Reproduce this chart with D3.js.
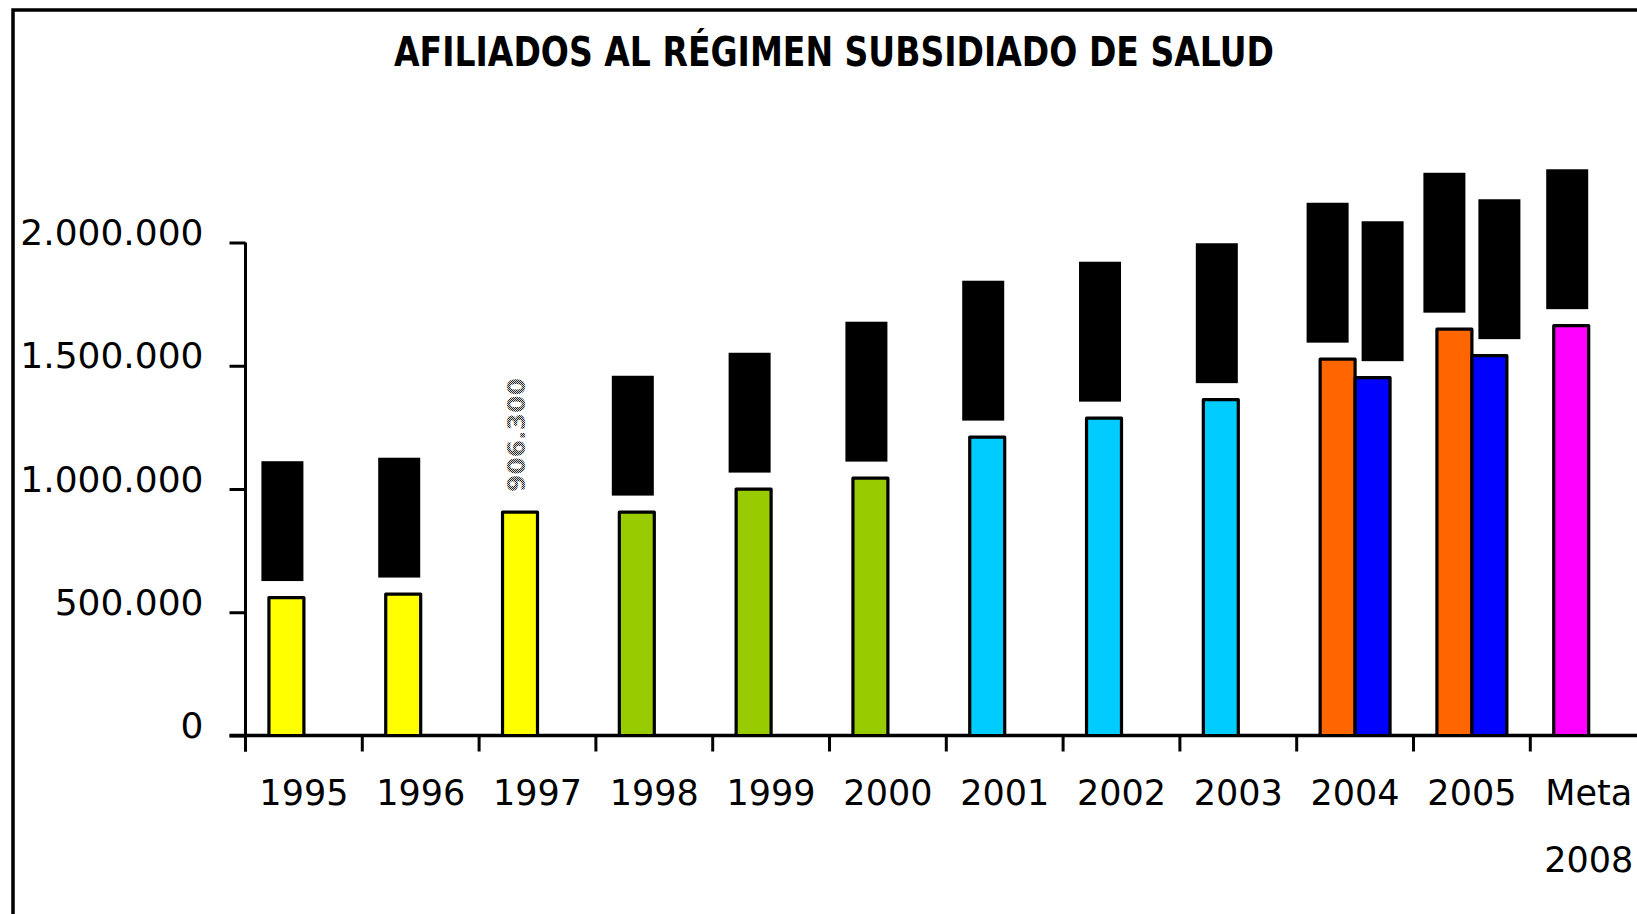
<!DOCTYPE html>
<html>
<head>
<meta charset="utf-8">
<script src="https://cdn.jsdelivr.net/npm/d3@7"></script>
<style>
  html, body { margin:0; padding:0; background:#fff; }
  svg { display:block; }
</style>
</head>
<body>
<svg id="chart"></svg>
<script>
// data
const categories = ['1995','1996','1997','1998','1999','2000','2001','2002','2003','2004','2005','Meta 2008'];
const periods    = ['p1','p1','p1','p2','p2','p2','p3','p3','p3','p4','p4','meta'];
const afiliados  = [559600, 573800, 906300, 906300, 999600, 1044200, 1210500, 1287500, 1362500, 1526800, 1648400, 1662600];
const afiliadosB = [null, null, null, null, null, null, null, null, null, 1451700, 1541000, null];
const yTicks = [0, 500000, 1000000, 1500000, 2000000];
const title = 'AFILIADOS AL RÉGIMEN SUBSIDIADO DE SALUD';
const plainLabels = ['1997']; // label drawn without the black background

const W = 1637, H = 914;
const svg = d3.select('#chart').attr('width', W).attr('height', H);
const font = "'DejaVu Sans', Verdana, sans-serif";

const fmt = d3.formatLocale({ decimal: ',', thousands: '.', grouping: [3], currency: ['$',''] }).format(',d');

const periodColor = d3.scaleOrdinal()
  .domain(['p1','p2','p3','p4','meta'])
  .range(['#ffff00','#99cc00','#00ccff','#ff6600','#ff00ff']);
const colorB = '#0000ff';

// frame
svg.append('rect')
  .attr('x', 13).attr('y', 10).attr('width', W + 50).attr('height', H + 50)
  .attr('fill', 'none').attr('stroke', '#000').attr('stroke-width', 3.5);

// title
svg.append('text')
  .attr('x', 834).attr('y', 66)
  .attr('text-anchor', 'middle')
  .attr('font-family', font).attr('font-weight', 'bold').attr('font-size', 40)
  .attr('textLength', 880).attr('lengthAdjust', 'spacingAndGlyphs')
  .text(title);

// scales
const left = 245.5, step = 116.8;
const x0 = d3.scaleBand().domain(categories).range([left, left + step * categories.length]).padding(0);
const x1 = d3.scaleBand().domain(['a','b']).range([0, x0.bandwidth()]).paddingInner(0).paddingOuter(0.67);
const y = d3.scaleLinear().domain([0, 2000000]).range([735.5, 242.5]);

// y axis
const yAxis = svg.append('g').attr('transform', `translate(${left},0)`)
  .call(d3.axisLeft(y).tickValues(yTicks).tickFormat(fmt).tickSize(16).tickSizeOuter(0));
yAxis.select('.domain').remove();
yAxis.selectAll('.tick line').attr('stroke', '#000').attr('stroke-width', 3);
yAxis.selectAll('.tick text')
  .attr('x', -42).attr('dy', 2)
  .attr('font-family', font).attr('font-size', 36).attr('fill', '#000');
svg.append('line')
  .attr('x1', left).attr('x2', left)
  .attr('y1', y.range()[1]).attr('y2', y(0) + 16)
  .attr('stroke', '#000').attr('stroke-width', 3);

// x axis
svg.append('line')
  .attr('x1', left - 16).attr('x2', W)
  .attr('y1', y(0)).attr('y2', y(0))
  .attr('stroke', '#000').attr('stroke-width', 3.5);
const bounds = categories.map(c => x0(c)).concat([x0.range()[1]]);
svg.append('g').selectAll('line').data(bounds).join('line')
  .attr('x1', d => d).attr('x2', d => d)
  .attr('y1', y(0)).attr('y2', y(0) + 16)
  .attr('stroke', '#000').attr('stroke-width', 3);

const xAxis = svg.append('g').attr('transform', `translate(0,${y(0)})`)
  .call(d3.axisBottom(x0).tickSize(0).tickSizeOuter(0));
xAxis.select('.domain').remove();
xAxis.selectAll('.tick text')
  .attr('font-family', font).attr('font-size', 35).attr('fill', '#000')
  .attr('y', 69.5).attr('dy', 0)
  .each(function(d) {
    const words = d.split(' ');
    const t = d3.select(this).text(null);
    words.forEach((w, i) => t.append('tspan').attr('x', 0).attr('dy', i ? 67 : 0).text(w));
  });

// bars
const rows = categories.map((c, i) => ({ c, i, a: afiliados[i], b: afiliadosB[i] }));
const bars = [];
rows.forEach(r => {
  bars.push({ c: r.c, key: 'a', v: r.a, fill: periodColor(periods[r.i]) });
  if (r.b != null) bars.push({ c: r.c, key: 'b', v: r.b, fill: colorB });
});

svg.append('g').selectAll('rect').data(bars).join('rect')
  .attr('x', d => x0(d.c) + x1(d.key))
  .attr('width', x1.bandwidth())
  .attr('y', d => y(d.v))
  .attr('height', d => y(0) - y(d.v))
  .attr('fill', d => d.fill)
  .attr('stroke', '#000').attr('stroke-width', 3.2).attr('stroke-linejoin', 'round');

// data labels (rotated, black background)
const defs = svg.append('defs');
const pat = defs.append('pattern').attr('id', 'dots')
  .attr('width', 2).attr('height', 2).attr('patternUnits', 'userSpaceOnUse');
pat.append('rect').attr('width', 1).attr('height', 1).attr('fill', '#000');
pat.append('rect').attr('x', 1).attr('y', 1).attr('width', 1).attr('height', 1).attr('fill', '#000');

const labelFont = 21, padLen = 16.5, boxW = 42, gap = 16.5;
const labels = bars.map(d => ({
  ...d,
  text: fmt(d.v),
  cx: x0(d.c) + x1(d.key) + x1.bandwidth() / 2 - 4,
  bottom: y(d.v) - (plainLabels.includes(d.c) ? 19 : gap),
  plain: plainLabels.includes(d.c)
}));

const lg = svg.append('g');
const lab = lg.selectAll('g').data(labels).join('g');
lab.append('text')
  .attr('font-family', font)
  .attr('font-size', d => d.plain ? 25 : labelFont)
  .attr('font-weight', d => d.plain ? 'bold' : 'normal')
  .attr('fill', d => d.plain ? 'url(#dots)' : '#000')
  .attr('text-anchor', 'middle')
  .attr('dominant-baseline', 'central')
  .text(d => d.text)
  .each(function(d) { d.len = this.getComputedTextLength(); d.h = d.len + (d.plain ? 2 : 2 * padLen); });

// push apart labels of the same category that collide
d3.groups(labels, d => d.c).forEach(([c, ls]) => {
  if (ls.length < 2) return;
  const [p, q] = ls;
  const need = boxW + 13;
  if (q.cx - p.cx < need) {
    const mid = (p.cx + q.cx) / 2 + 4;
    p.cx = mid - need / 2;
    q.cx = mid + need / 2;
  }
});

lab.attr('transform', d => `translate(${d.cx},${d.bottom - d.h / 2})`);
lab.insert('rect', 'text')
  .attr('x', -boxW / 2).attr('width', boxW)
  .attr('y', d => -d.h / 2).attr('height', d => d.h)
  .attr('fill', d => d.plain ? 'none' : '#000');
lab.select('text').attr('transform', 'rotate(-90)');
</script>
</body>
</html>
